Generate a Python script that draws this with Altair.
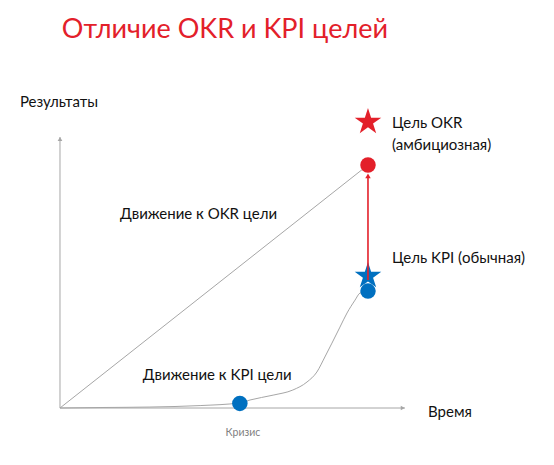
import altair as alt
import pandas as pd

# ---- data (conceptual units: time / results) ----
curve_t = [0, 1.30, 2.92, 4.55, 5.84, 6.17, 6.92, 7.56, 8.02, 8.34, 8.60, 8.83, 9.09, 9.32, 9.58, 9.74, 10]
curve_r = [0, 0.02, 0.04, 0.10, 0.21, 0.33, 0.53, 0.74, 1.07, 1.48, 2.10, 2.67, 3.33, 3.91, 4.44, 4.73, 4.81]

okr_t = [0, 10]
okr_r = [0, 10]

dot_t = [5.84, 10, 10]
dot_r = [0.19, 4.81, 10]
dot_kind = ["kpi", "kpi", "okr"]

star_t = [10, 10]
star_r = [5.43, 11.77]
star_kind = ["kpi", "okr"]

axis_end_t = 11.2
axis_end_r = 11.15

arrow_from = 5.27
arrow_to = 9.55

labels = ["Результаты", "Время", "Движение к OKR цели", "Движение к KPI цели",
          "Цель OKR", "(амбициозная)", "Цель KPI (обычная)"]
label_t = [-1.30, 11.95, 1.95, 2.69, 10.78, 10.78, 10.78]
label_r = [12.59, -0.16, 7.98, 1.36, 11.73, 10.82, 6.17]

crisis_label = "Кризис"
crisis_t = 5.94
crisis_r = -1.03

title_text = "Отличие OKR и KPI целей"
title_t = 0.06
title_r = 15.56

RED = "#E3202A"
BLUE = "#0070C0"
GREY = "#A6A6A6"
FONT = "Lato"
STAR = ("M0,-1L0.2245,-0.309L0.9511,-0.309L0.3633,0.118L0.5878,0.809L0,0.382"
        "L-0.5878,0.809L-0.3633,0.118L-0.9511,-0.309L-0.2245,-0.309Z")

xs = alt.Scale(domain=[-1.688, 15.78], nice=False, zero=False)
ys = alt.Scale(domain=[-2.016, 16.46], nice=False, zero=False)


def X(f="t"):
    return alt.X(f"{f}:Q", scale=xs, axis=None)


def Y(f="r"):
    return alt.Y(f"{f}:Q", scale=ys, axis=None)


axes_df = pd.DataFrame({"t": [0, 0], "r": [0, 0], "t2": [0, axis_end_t], "r2": [axis_end_r, 0]})
axes = alt.Chart(axes_df).mark_rule(color=GREY, strokeWidth=1).encode(
    x=X(), y=Y(), x2="t2:Q", y2="r2:Q")

heads_df = pd.DataFrame({"t": [0, axis_end_t - 0.07], "r": [axis_end_r - 0.08, 0],
                         "shape": ["triangle-up", "triangle-right"]})
heads = alt.Chart(heads_df).mark_point(filled=True, opacity=1, color=GREY, size=22).encode(
    x=X(), y=Y(), shape=alt.Shape("shape:N", scale=None, legend=None))

curve_df = pd.DataFrame({"t": curve_t, "r": curve_r})
curve = alt.Chart(curve_df).mark_line(color=GREY, strokeWidth=1, interpolate="monotone").encode(
    x=X(), y=Y())

okr_df = pd.DataFrame({"t": okr_t, "r": okr_r})
okr_line = alt.Chart(okr_df).mark_line(color=GREY, strokeWidth=1).encode(x=X(), y=Y())

color_scale = alt.Scale(domain=["kpi", "okr"], range=[BLUE, RED])

dots_df = pd.DataFrame({"t": dot_t, "r": dot_r, "kind": dot_kind})
dots = alt.Chart(dots_df).mark_point(shape="circle", filled=True, opacity=1, size=240).encode(
    x=X(), y=Y(), color=alt.Color("kind:N", scale=color_scale, legend=None))

stars_df = pd.DataFrame({"t": star_t, "r": star_r, "kind": star_kind})
stars = alt.Chart(stars_df).mark_point(shape=STAR, filled=True, opacity=1, size=780).encode(
    x=X(), y=Y(), color=alt.Color("kind:N", scale=color_scale, legend=None))

arrow_df = pd.DataFrame({"t": [10], "r": [arrow_from], "r2": [arrow_to]})
arrow = alt.Chart(arrow_df).mark_rule(color=RED, strokeWidth=1.6).encode(
    x=X(), y=Y(), y2="r2:Q")
arrow_head = alt.Chart(pd.DataFrame({"t": [10], "r": [arrow_to]})).mark_point(
    shape="triangle-up", filled=True, opacity=1, color=RED, size=30).encode(x=X(), y=Y())

lab_df = pd.DataFrame({"t": label_t, "r": label_r, "label": labels})
texts = alt.Chart(lab_df).mark_text(align="left", baseline="middle", font=FONT,
                                    fontSize=15, color="#111111").encode(
    x=X(), y=Y(), text="label:N")

crisis = alt.Chart(pd.DataFrame({"t": [crisis_t], "r": [crisis_r], "label": [crisis_label]})).mark_text(
    align="center", baseline="middle", font=FONT, fontSize=10.5, color="#7F7F7F").encode(
    x=X(), y=Y(), text="label:N")

title = alt.Chart(pd.DataFrame({"t": [title_t], "r": [title_r], "label": [title_text]})).mark_text(
    align="left", baseline="middle", font=FONT, fontSize=27, color=RED).encode(
    x=X(), y=Y(), text="label:N")

chart = alt.layer(axes, heads, okr_line, curve, dots, stars, arrow, arrow_head,
                  texts, crisis, title).properties(
    width=538, height=449, autosize=alt.AutoSizeParams(type="none"), padding=0,
    background="white"
).configure_view(stroke=None)

chart.save("out.html", embed_options={"renderer": "svg", "actions": False})
